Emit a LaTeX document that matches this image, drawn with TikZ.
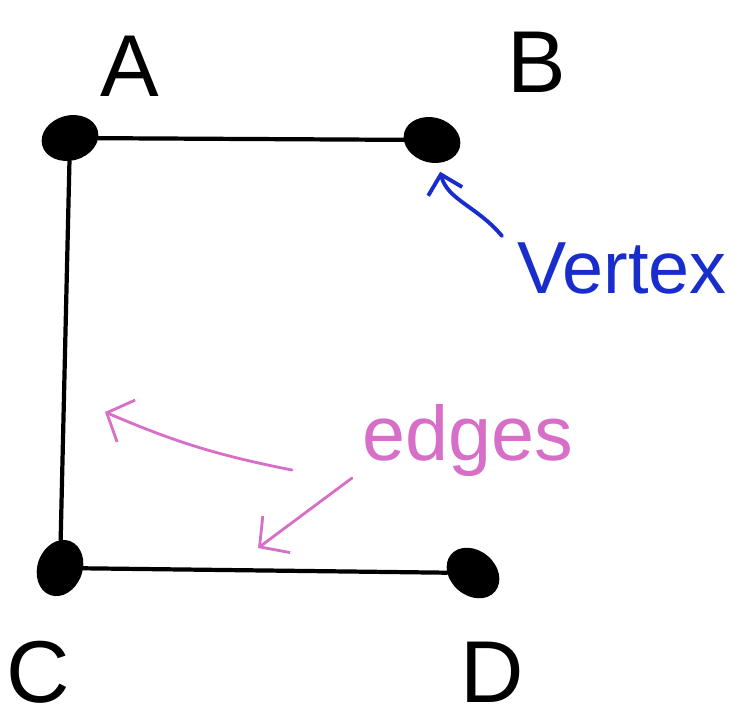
\documentclass[tikz,border=0pt]{standalone}
\usepackage{fontspec}
\setmainfont{Liberation Sans}
\usetikzlibrary{arrows.meta,shapes.geometric}
\definecolor{vertexblue}{RGB}{25,45,205}
\definecolor{edgepink}{RGB}{215,110,200}
\tikzset{
    vertexdot/.style={ellipse,fill=black,inner sep=0pt,minimum width=1.15cm,minimum height=0.9cm},
    edgeline/.style={line width=2.4pt,line cap=round},
    letterlabel/.style={font=\fontsize{50}{54}\selectfont,inner sep=0pt},
    bluelabel/.style={font=\fontsize{42}{46}\selectfont,text=vertexblue,inner sep=0pt},
    pinklabel/.style={font=\fontsize{44}{48}\selectfont,text=edgepink,inner sep=0pt},
    bluearrow/.style={-{Straight Barb[length=10pt,width=20pt]},line width=2.2pt,vertexblue,line cap=round},
    pinkarrow/.style={-{Straight Barb[length=12pt,width=26pt]},line width=1.6pt,edgepink,line cap=round}
}

\begin{document}
\begin{tikzpicture}[x=0.02cm,y=-0.02cm]
    \useasboundingbox (0,0) rectangle (732,725);
    % Vertices
    \node[vertexdot,rotate=15] (a) at (70,138) {};
    \node[vertexdot,rotate=-15] (b) at (432,140) {};
    \node[vertexdot,rotate=70] (c) at (60,568) {};
    \node[vertexdot,rotate=-40] (d) at (473,573) {};
    % Letters
    \node[letterlabel] (la) at (130,66) {A};
    \node[letterlabel] (lb) at (537,62) {B};
    \node[letterlabel] (lc) at (38,672) {C};
    \node[letterlabel] (ld) at (492,672) {D};
    % Edges
    \draw[edgeline] (a) -- (b);
    \draw[edgeline] (a) -- (c);
    \draw[edgeline] (c) -- (d);
    % Vertex note
    \node[bluelabel] (vtx) at (622,268) {Vertex};
    \coordinate (vtail) at (502,236);
    \draw[bluearrow,shorten >=5pt] (vtail) to[out=130,in=-70] (b);
    % Edges note
    \node[pinklabel] (edg) at (468,440) {edges};
    \coordinate (e1tail) at (292,470);
    \coordinate (e1tip) at (105,412);
    \coordinate (e2tail) at (352,478);
    \coordinate (e2tip) at (258,548);
    \draw[pinkarrow] (e1tail) to[bend left=6] (e1tip);
    \draw[pinkarrow] (e2tail) -- (e2tip);
\end{tikzpicture}
\end{document}
